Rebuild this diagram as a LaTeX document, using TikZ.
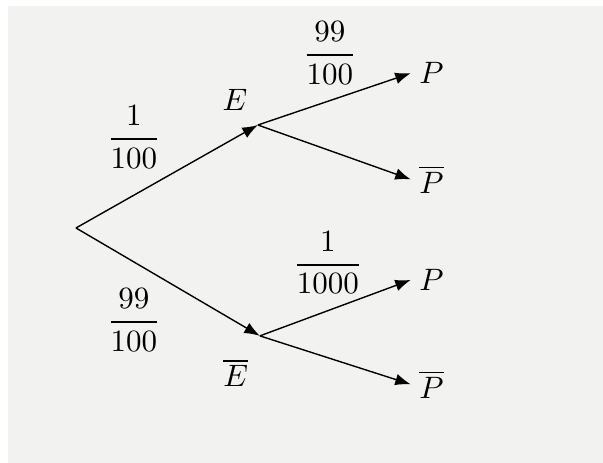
\documentclass[tikz,border=0pt]{standalone}
\usepackage{amsmath}
\usetikzlibrary{arrows.meta}
\definecolor{paper}{RGB}{242,243,241}
\tikzset{
  branch/.style={
    ->,
    >=Latex,
    line width=0.45pt
  },
  outcome/.style={
    anchor=west,
    inner sep=2.6pt
  },
  event/.style={
    inner sep=0pt
  },
  prob/.style={
    inner sep=0pt
  }
}

\begin{document}
\begin{tikzpicture}
  % same size as the original sheet
  \useasboundingbox (0,0) rectangle (6.84,5.25);
  \fill[paper] (0.096,0) rectangle (6.84,5.18);

  % branching points
  \coordinate (root) at (0.862,2.664);
  \coordinate (E) at (2.925,3.832);
  \coordinate (Ebar) at (2.948,1.440);

  % event labels
  \node[event] (E-lbl) at (2.664,4.116) {$E$};
  \node[event] (Ebar-lbl) at (2.675,1.02) {$\overline{E}$};

  % outcomes
  \node[outcome] (E-P) at (4.66,4.42) {$P$};
  \node[outcome] (E-Pbar) at (4.66,3.215) {$\overline{P}$};
  \node[outcome] (Ebar-P) at (4.66,2.075) {$P$};
  \node[outcome] (Ebar-Pbar) at (4.66,0.89) {$\overline{P}$};

  % probabilities
  \node[prob] (p-E) at (1.519,3.696) {$\dfrac{1}{100}$};
  \node[prob] (p-Ebar) at (1.519,1.621) {$\dfrac{99}{100}$};
  \node[prob] (p-P-E) at (3.741,4.649) {$\dfrac{99}{100}$};
  \node[prob] (p-P-Ebar) at (3.719,2.268) {$\dfrac{1}{1000}$};

  \draw[branch] (root) -- (E);
  \draw[branch] (root) -- (Ebar);
  \draw[branch] (E) -- (E-P.west);
  \draw[branch] (E) -- (E-Pbar.west);
  \draw[branch] (Ebar) -- (Ebar-P.west);
  \draw[branch] (Ebar) -- (Ebar-Pbar.west);
\end{tikzpicture}
\end{document}
